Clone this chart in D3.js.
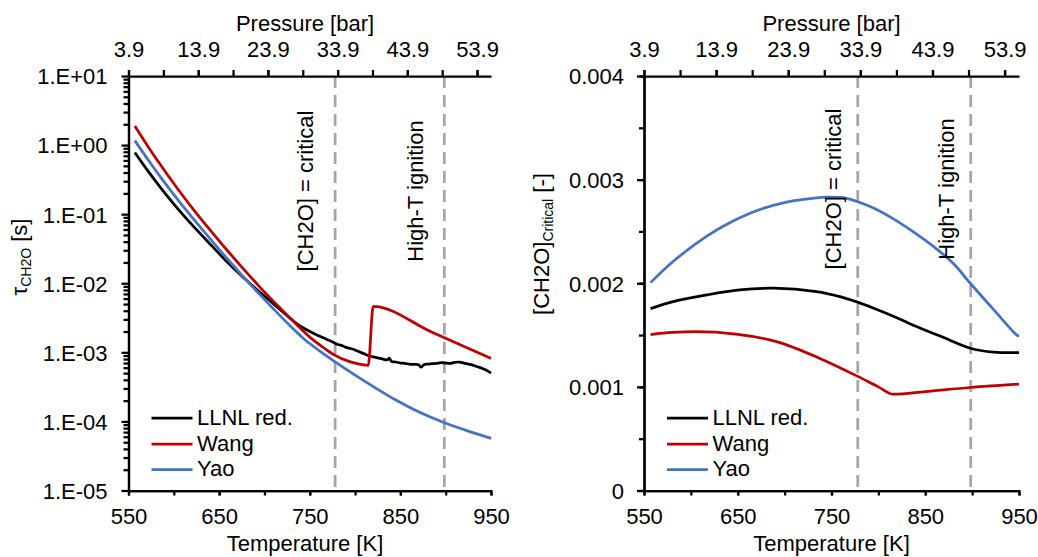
<!DOCTYPE html>
<html>
<head>
<meta charset="utf-8">
<script src="https://cdn.jsdelivr.net/npm/d3@7"></script>
<style>
  body { margin: 0; background: #fff; }
  text { font-family: "Liberation Sans", Arial, sans-serif; fill: #000; }
</style>
</head>
<body>
<svg id="chart" width="1038" height="557"></svg>
<script>
// ---- data ----
const tempTicks = [550, 650, 750, 850, 950];
const tempMinorTicks = [550, 600, 650, 700, 750, 800, 850, 900, 950];
const pressureTicks = [3.9, 13.9, 23.9, 33.9, 43.9, 53.9];
const pressureMinorTicks = [3.9, 8.9, 13.9, 18.9, 23.9, 28.9, 33.9, 38.9, 43.9, 48.9, 53.9];
const pressureDomain = [3.9, 55.9];
const tauTicks = [1e1, 1e0, 1e-1, 1e-2, 1e-3, 1e-4, 1e-5];
const tauTickLabels = ["1.E+01", "1.E+00", "1.E-01", "1.E-02", "1.E-03", "1.E-04", "1.E-05"];
const critTicks = [0, 0.001, 0.002, 0.003, 0.004];
const critMinorTicks = [0, 0.0005, 0.001, 0.0015, 0.002, 0.0025, 0.003, 0.0035, 0.004];
const critTickLabels = ["0", "0.001", "0.002", "0.003", "0.004"];
const markerTemps = [778, 898.5];
const markerLabels = ["[CH2O] = critical", "High-T ignition"];
const seriesNames = ["LLNL red.", "Wang", "Yao"];
const seriesColors = ["#000000", "#c00000", "#4472c4"];

// formaldehyde time scale tau_CH2O [s] vs temperature [K]
const tauLLNL = [
  [557, 7.80e-1], [572, 4.12e-1], [586, 2.37e-1], [605, 1.175e-1], [623, 6.38e-2],
  [642, 3.47e-2], [660, 1.96e-2], [678, 1.175e-2], [696, 7.21e-3], [711, 4.90e-3],
  [726, 3.31e-3], [735, 2.63e-3], [744, 2.21e-3], [755, 1.86e-3], [765, 1.62e-3],
  [776, 1.40e-3], [780, 1.31e-3], [785, 1.26e-3], [790, 1.18e-3], [795, 1.135e-3],
  [800, 1.084e-3], [805, 1.012e-3], [810, 9.55e-4], [815, 8.91e-4], [820, 8.61e-4],
  [825, 8.32e-4], [830, 8.04e-4], [835, 7.76e-4], [838, 8.22e-4], [840, 7.41e-4],
  [845, 7.24e-4], [850, 7.00e-4], [855, 6.92e-4], [860, 6.76e-4], [865, 6.68e-4],
  [870, 6.61e-4], [873, 6.10e-4], [876, 6.61e-4], [880, 6.76e-4], [885, 6.84e-4],
  [890, 6.92e-4], [895, 7.08e-4], [900, 7.00e-4], [905, 6.92e-4], [910, 7.16e-4],
  [915, 7.24e-4], [920, 7.00e-4], [925, 6.76e-4], [930, 6.53e-4], [935, 6.17e-4],
  [940, 5.89e-4], [945, 5.50e-4], [950, 5.01e-4]
];
const tauWang = [
  [557, 1.89], [572, 9.33e-1], [586, 5.01e-1], [605, 2.26e-1], [623, 1.11e-1],
  [642, 5.50e-2], [660, 2.88e-2], [678, 1.55e-2], [696, 8.51e-3], [715, 4.68e-3],
  [733, 2.72e-3], [751, 1.62e-3], [765, 1.175e-3], [776, 9.33e-4], [794, 7.33e-4],
  [805, 6.76e-4], [812, 6.53e-4], [814.5, 6.46e-4], [820, 4.62e-3], [885, 1.95e-3],
  [950, 8.18e-4]
];
const tauYao = [
  [557, 1.161], [572, 6.03e-1], [586, 3.35e-1], [605, 1.585e-1], [623, 8.13e-2],
  [642, 4.12e-2], [660, 2.19e-2], [678, 1.189e-2], [696, 6.61e-3], [715, 3.63e-3],
  [733, 2.11e-3], [744, 1.55e-3], [760, 1.07e-3], [776, 7.59e-4], [800, 4.68e-4],
  [822, 3.09e-4], [845, 2.04e-4], [870, 1.38e-4], [898, 9.66e-5], [925, 7.24e-5],
  [950, 5.69e-5]
];

// critical formaldehyde mole fraction [-] vs temperature [K]
const critLLNL = [
  [557, 1.755e-3], [581, 1.822e-3], [617, 1.887e-3], [652, 1.935e-3], [688, 1.952e-3],
  [734, 1.92e-3], [759, 1.871e-3], [777, 1.82e-3], [795, 1.759e-3], [819, 1.67e-3],
  [840, 1.585e-3], [866, 1.49e-3], [898, 1.373e-3], [923, 1.335e-3], [950, 1.33e-3]
];
const critWang = [
  [557, 1.505e-3], [580, 1.525e-3], [605, 1.533e-3], [648, 1.51e-3], [694, 1.43e-3],
  [737, 1.277e-3], [777, 1.106e-3], [800, 1.0e-3], [816, 0.929e-3], [850, 0.955e-3],
  [898, 0.994e-3], [950, 1.026e-3]
];
const critYao = [
  [557, 2.006e-3], [581, 2.21e-3], [617, 2.455e-3], [645, 2.60e-3], [670, 2.70e-3],
  [702, 2.783e-3], [734, 2.825e-3], [745, 2.83e-3], [766, 2.82e-3], [790, 2.745e-3],
  [812, 2.643e-3], [835, 2.51e-3], [859, 2.353e-3], [880, 2.19e-3], [898, 2.0e-3],
  [923, 1.745e-3], [947.5, 1.501e-3], [950, 1.49e-3]
];

// ---- drawing ----
const svg = d3.select("#chart");
const FS = 22;
const AXIS_W = 2.25;
const smooth = d3.curveCatmullRom.alpha(0.5);
const sharp = d3.curveMonotoneX;

function styleAxis(sel) {
  sel.select(".domain").attr("stroke", "#000").attr("stroke-width", AXIS_W);
  sel.selectAll(".tick line").attr("stroke", "#000").attr("stroke-width", AXIS_W);
  sel.selectAll(".tick text").attr("font-size", FS).attr("fill", "#000")
     .attr("font-family", "Liberation Sans, Arial, sans-serif");
}

function drawPanel(p) {
  const g = svg.append("g");
  const x = d3.scaleLinear().domain([550, 950]).range([p.x0, p.x1]);
  const xp = d3.scaleLinear().domain(pressureDomain).range([p.x0, p.x1]);
  const y = p.yScale.range([p.y1, p.y0]);

  // reference temperatures (dashed)
  g.selectAll("line.marker").data(markerTemps).join("line")
    .attr("x1", d => x(d)).attr("x2", d => x(d))
    .attr("y1", p.y0).attr("y2", p.y1)
    .attr("stroke", "#a6a6a6").attr("stroke-width", 2.75)
    .attr("stroke-dasharray", "12,7");

  // series
  p.series.forEach((s, i) => {
    const line = d3.line().x(d => x(d[0])).y(d => y(d[1])).curve(p.curves[i]);
    g.append("path").datum(s).attr("d", line)
      .attr("fill", "none").attr("stroke", seriesColors[i])
      .attr("stroke-width", 2.75).attr("stroke-linejoin", "round");
  });

  // annotations next to dashed lines
  markerLabels.forEach((t, i) => {
    g.append("text")
      .attr("transform", `translate(${p.annX[i]},${p.annY}) rotate(-90)`)
      .attr("text-anchor", "middle").attr("font-size", FS).text(t);
  });

  // bottom temperature axis
  const bMinor = g.append("g").attr("transform", `translate(0,${p.y1})`)
    .call(d3.axisBottom(x).tickValues(tempMinorTicks).tickSize(5).tickSizeOuter(0).tickFormat(""));
  styleAxis(bMinor);
  const bMajor = g.append("g").attr("transform", `translate(0,${p.y1})`)
    .call(d3.axisBottom(x).tickValues(tempTicks).tickSize(5).tickSizeOuter(0).tickFormat(d3.format("d")));
  styleAxis(bMajor);
  bMajor.selectAll(".tick text").attr("y", 33.5).attr("dy", 0);

  // top pressure axis
  const tMinor = g.append("g").attr("transform", `translate(0,${p.y0})`)
    .call(d3.axisTop(xp).tickValues(pressureMinorTicks).tickSize(6).tickSizeOuter(0).tickFormat(""));
  styleAxis(tMinor);
  const tMajor = g.append("g").attr("transform", `translate(0,${p.y0})`)
    .call(d3.axisTop(xp).tickValues(pressureTicks).tickSize(6).tickSizeOuter(0).tickFormat(d3.format(".1f")));
  styleAxis(tMajor);
  tMajor.select(".domain").remove();
  tMajor.selectAll(".tick text").attr("y", -19).attr("dy", 0);

  // left value axis
  const lMinor = g.append("g").attr("transform", `translate(${p.x0},0)`)
    .call(d3.axisLeft(y).tickValues(p.yMinor).tickSize(5).tickSizeOuter(0).tickFormat(""));
  styleAxis(lMinor);
  const lMajor = g.append("g").attr("transform", `translate(${p.x0},0)`)
    .call(d3.axisLeft(y).tickValues(p.yTicks).tickSize(7).tickSizeOuter(0)
      .tickFormat((d, i) => p.yLabels[i]));
  styleAxis(lMajor);
  lMajor.selectAll(".tick text").attr("x", -p.labelGap).attr("dy", 7.9);

  // axis titles
  g.append("text").attr("x", p.titleX).attr("y", 31).attr("text-anchor", "middle")
    .attr("font-size", FS).text("Pressure [bar]");
  g.append("text").attr("x", p.titleX).attr("y", 551).attr("text-anchor", "middle")
    .attr("font-size", FS).text("Temperature [K]");
  const yt = g.append("text")
    .attr("transform", `translate(${p.yTitleX},${p.yTitleY}) rotate(-90)`)
    .attr("text-anchor", "middle").attr("font-size", FS);
  yt.append("tspan").text(p.yTitle[0]);
  yt.append("tspan").attr("font-size", 14).attr("dy", 4).text(p.yTitle[1]);
  yt.append("tspan").attr("dy", -4).text(p.yTitle[2]);

  // legend
  const rows = [418, 444, 469.5];
  seriesNames.forEach((n, i) => {
    g.append("line").attr("x1", p.x0 + 23).attr("x2", p.x0 + 64)
      .attr("y1", rows[i]).attr("y2", rows[i])
      .attr("stroke", seriesColors[i]).attr("stroke-width", 2.75);
    g.append("text").attr("x", p.x0 + 68.5).attr("y", rows[i] + 6.5)
      .attr("font-size", FS).text(n);
  });
}

// minor log ticks between decades
const tauMinor = [];
[-5, -4, -3, -2, -1, 0].forEach(e => {
  for (let k = 2; k <= 9; k++) tauMinor.push(k * Math.pow(10, e));
});

drawPanel({
  x0: 128.5, x1: 491, y0: 76, y1: 490.5,
  yScale: d3.scaleLog().domain([1e-5, 1e1]),
  yTicks: tauTicks, yLabels: tauTickLabels, yMinor: tauMinor, labelGap: 21,
  series: [tauLLNL, tauWang, tauYao],
  curves: [smooth, sharp, smooth],
  annX: [312.7, 423], annY: 191,
  titleX: 305,
  yTitle: ["\u03c4", "CH2O", " [s]"], yTitleX: 27, yTitleY: 257
});

drawPanel({
  x0: 644, x1: 1019, y0: 76, y1: 490.5,
  yScale: d3.scaleLinear().domain([0, 0.004]),
  yTicks: critTicks, yLabels: critTickLabels, yMinor: critMinorTicks, labelGap: 20,
  series: [critLLNL, critWang, critYao],
  curves: [smooth, sharp, smooth],
  annX: [841, 953.7], annY: 189,
  titleX: 831.5,
  yTitle: ["[CH2O]", "Critical", " [-]"], yTitleX: 549, yTitleY: 244
});
</script>
</body>
</html>
